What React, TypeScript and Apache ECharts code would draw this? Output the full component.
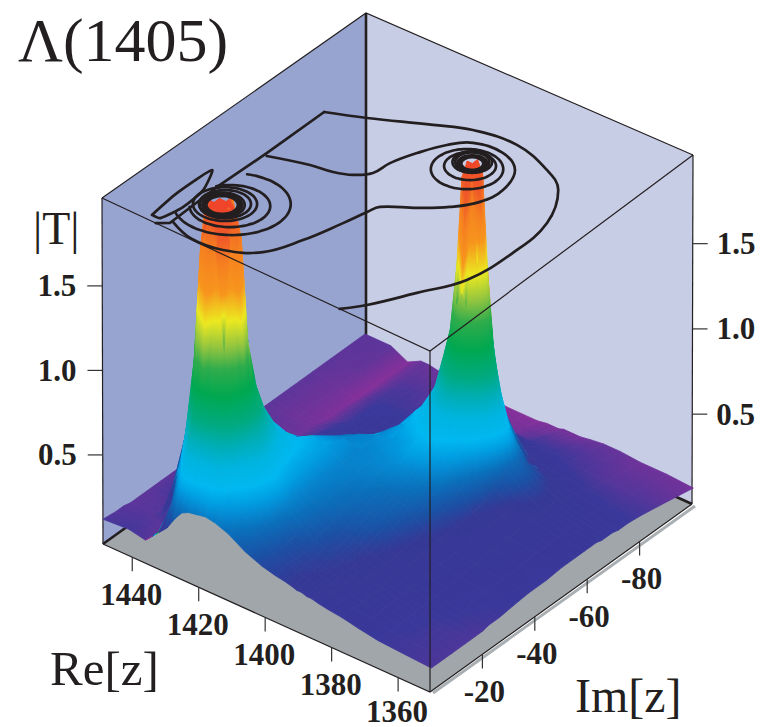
import React, { useEffect, useRef } from "react";
import * as echarts from "echarts";

// Axis ticks
const reTicks = [1360, 1380, 1400, 1420, 1440];
const imTicks = [-20, -40, -60, -80];
const tTicks = [0.5, 1.0, 1.5];

// |T| on a grid that is denser around the two poles
const reValues = [1350, 1358, 1366, 1372, 1377, 1381, 1384, 1386, 1387.5, 1389, 1390.5, 1392, 1394, 1397, 1401, 1406, 1411, 1415, 1418, 1420.5, 1423, 1425, 1427, 1429.5, 1432, 1436, 1441, 1448.8];
const imValues = [0, -5, -8, -10.5, -13, -15, -17, -19.5, -22, -26, -31, -37, -44, -50, -55, -58.5, -61, -63, -65, -67, -69, -71.5, -75, -80, -87, -100];
const tRows = [
  [.12, .12, .12, .12, .12, .12, .12, .12, .13, .13, .14, .15, .15, .16, .16, .16, .16, .16, .15, .15, .15, .14, .14, .13, .11, .07],
  [.13, .13, .13, .13, .13, .13, .14, .14, .14, .15, .15, .16, .16, .17, .17, .17, .17, .17, .17, .17, .16, .16, .15, .13, .11, .08],
  [.14, .14, .15, .15, .15, .15, .15, .16, .16, .16, .17, .18, .19, .19, .20, .20, .21, .21, .21, .21, .20, .19, .17, .14, .11, .08],
  [.16, .16, .16, .17, .17, .17, .17, .18, .18, .18, .19, .19, .20, .20, .21, .22, .24, .26, .27, .27, .26, .24, .20, .15, .12, .09],
  [.18, .18, .18, .19, .19, .19, .19, .20, .20, .20, .21, .22, .23, .24, .26, .29, .32, .35, .36, .36, .33, .29, .22, .16, .13, .09],
  [.19, .19, .20, .20, .20, .21, .21, .21, .21, .22, .23, .25, .28, .33, .42, .50, .60, .68, .72, .62, .50, .38, .24, .18, .14, .08],
  [.20, .20, .21, .21, .21, .22, .22, .22, .23, .24, .26, .29, .35, .43, .50, .66, .88, 1.02, 1.08, .92, .66, .50, .36, .18, .14, .07],
  [.21, .21, .21, .22, .22, .22, .23, .23, .24, .26, .28, .32, .38, .46, .55, .78, 1.08, 1.42, 1.70, 1.40, .96, .66, .42, .22, .14, .07],
  [.21, .22, .22, .22, .23, .23, .24, .24, .25, .27, .30, .34, .40, .48, .58, .86, 1.22, 1.95, 2.6, 1.95, 1.20, .76, .48, .26, .14, .07],
  [.22, .22, .23, .23, .24, .24, .25, .25, .26, .29, .32, .35, .41, .50, .62, .90, 1.30, 2.4, 2.6, 2.4, 1.28, .82, .52, .28, .14, .07],
  [.22, .23, .23, .24, .24, .25, .25, .26, .27, .30, .33, .36, .42, .51, .63, .89, 1.22, 1.95, 2.6, 1.95, 1.20, .80, .52, .28, .13, .06],
  [.23, .23, .24, .24, .25, .26, .26, .27, .28, .31, .34, .37, .43, .52, .62, .83, 1.08, 1.42, 1.70, 1.42, 1.05, .76, .50, .26, .12, .06],
  [.24, .24, .25, .25, .26, .27, .27, .28, .29, .32, .35, .38, .44, .52, .60, .74, .92, 1.02, 1.08, 1.02, .88, .66, .44, .22, .11, .06],
  [.25, .26, .26, .27, .28, .29, .30, .31, .32, .35, .37, .40, .44, .48, .56, .62, .68, .71, .72, .69, .62, .50, .34, .18, .09, .05],
  [.27, .28, .29, .30, .31, .34, .35, .36, .37, .38, .39, .41, .43, .46, .50, .53, .53, .54, .53, .50, .44, .35, .24, .14, .08, .05],
  [.31, .35, .38, .40, .41, .42, .42, .42, .42, .42, .42, .42, .42, .44, .42, .40, .38, .36, .34, .31, .27, .22, .16, .10, .07, .05],
  [.37, .44, .49, .53, .56, .58, .57, .54, .52, .50, .49, .48, .44, .40, .34, .28, .23, .20, .18, .16, .14, .13, .11, .09, .08, .06],
  [.40, .52, .62, .70, .77, .80, .79, .74, .68, .61, .56, .50, .42, .36, .30, .25, .21, .19, .17, .16, .15, .14, .13, .11, .10, .07],
  [.41, .64, .82, .96, 1.04, 1.06, 1.04, .96, .82, .68, .56, .46, .38, .30, .25, .21, .19, .18, .17, .16, .16, .15, .14, .13, .11, .08],
  [.40, .66, .94, 1.20, 1.85, 2.1, 1.85, 1.20, .94, .72, .54, .44, .34, .27, .22, .19, .18, .17, .17, .16, .16, .15, .15, .13, .11, .08],
  [.39, .72, 1.02, 1.80, 2.6, 2.6, 2.6, 1.80, 1.02, .76, .54, .44, .33, .25, .21, .18, .17, .17, .16, .16, .15, .15, .15, .13, .12, .08],
  [.37, .75, 1.05, 2.1, 2.6, 2.6, 2.6, 2.1, 1.05, .76, .52, .42, .31, .23, .20, .18, .17, .16, .16, .15, .15, .15, .15, .13, .12, .08],
  [.32, .72, 1.00, 1.80, 2.6, 2.6, 2.6, 1.80, 1.00, .72, .49, .38, .28, .21, .18, .16, .16, .15, .15, .14, .14, .14, .14, .13, .12, .08],
  [.24, .50, .72, 1.12, 1.75, 2.1, 1.75, 1.12, .86, .64, .42, .31, .22, .17, .15, .14, .14, .13, .13, .12, .12, .12, .12, .12, .11, .09],
  [.19, .31, .48, .68, .88, .98, .98, .86, .72, .54, .32, .22, .15, .13, .12, .12, .11, .11, .11, .10, .10, .10, .10, .10, .09, .09],
  [.11, .10, .10, .16, .38, .54, .62, .58, .48, .34, .19, .13, .10, .09, .08, .08, .08, .08, .07, .07, .06, .06, .06, .05, .05, .05],
  [.13, .12, .11, .11, .11, .11, .12, .13, .14, .13, .11, .10, .10, .09, .09, .09, .09, .08, .08, .08, .08, .08, .08, .08, .09, .10],
  [.12, .11, .11, .10, .10, .10, .10, .10, .10, .10, .10, .10, .10, .10, .10, .10, .10, .10, .10, .10, .10, .10, .10, .10, .10, .10],
];

// Contours on the top plane, as [Re, Im]
const contourOuterArc = [[1377.5, 0], [1373.4, -5.2], [1367.2, -16.3], [1361.2, -27.7], [1359.4, -42.9], [1360.5, -57.3], [1366.6, -69.3], [1373.6, -73.9], [1385.4, -77.4], [1397.2, -75.6], [1405.8, -71.4], [1419.7, -63.9], [1429.1, -59.5]];
const contourOuterEdge = [[1429.1, -59.5], [1429.5, -38.3], [1430.3, -20.3], [1430.1, -2.1], [1432.7, 0]];
const contourInner = [[1429.8, -2.9], [1422.2, -0.3], [1413.6, -1.4], [1405.7, -6.6], [1401.3, -16.2], [1398.1, -27.4], [1396.4, -34.4], [1395.3, -37.9], [1388.2, -43], [1382.4, -48.1], [1378.1, -54.1], [1376.8, -61.2], [1379.5, -69.2], [1386, -72.8], [1394, -71.6], [1398.3, -67.1], [1401.8, -60.2], [1404.3, -53.1], [1405, -47.5], [1408.2, -44], [1412.6, -42], [1418.6, -40.8], [1428.8, -37.3]];
const contourLens = [[1435.4, -2], [1436.2, -12.5], [1435.4, -24.9], [1432.1, -17.3], [1431.6, -9], [1433.1, -2.2], [1435.4, -2]];
// Rings round each pole: Re, Im, two half-widths, first and last angle
const ringsLeft = [
  [1423.3, -17.1, 8.6, 9.7, -75, 165],
  [1423.2, -16.2, 5.9, 6.6, -110, 180],
  [1424.6, -16.1, 4.7, 5.3, 0, 360],
  [1424.6, -16.1, 3.8, 4.4, 0, 360],
  [1424.9, -15.4, 3.3, 3.9, 0, 360],
  [1424.9, -15.4, 2.9, 3.4, 0, 360],
  [1424.9, -15.4, 2.6, 3.1, 0, 360],
  [1424.9, -15.4, 2.3, 2.8, 0, 360],
];
const ringsRight = [
  [1388.6, -62.5, 5.3, 6.3, 0, 360],
  [1388.8, -63.9, 3.8, 4.4, 0, 360],
  [1389.4, -65.5, 2.9, 3.4, 0, 360],
  [1389.4, -65.5, 2.5, 3.0, 0, 360],
  [1389, -65, 2.2, 2.6, 0, 360],
  [1389, -65, 1.9, 2.3, 0, 360],
  [1389, -65, 1.6, 2.0, 0, 360],
];

// Colour ramp
const rampValues = [0.05, 0.09, 0.14, 0.23, 0.29, 0.38, 0.48, 0.54, 0.64, 0.74, 0.85, 1.0, 1.15, 1.27, 1.42, 1.6, 1.85, 2.05, 2.4];
const rampColors = ["#85309a", "#66349a", "#3a389a", "#363896", "#1b50a4", "#0a70bc", "#00a0e4", "#00b8f0", "#00b4e0", "#00aeb8", "#00aa80", "#00a850", "#30ac4c", "#90c440", "#ece820", "#f7941d", "#f57f20", "#f05a28", "#f0452a"];

const T0 = -0.027;
const T1 = 2.02;
function project(re: number, im: number, t: number): number[] {
  const a = (re - 1350.4) / 98.4;
  const b = -im / 100;
  const h = (Math.min(t, T1) - T0) / (T1 - T0);
  const fx = 430 - 327 * a + 262 * b;
  const fy = 692 - 148 * a - 188 * b;
  const tx = 430 - 328 * a + 263 * b;
  const ty = 351 - 153 * a - 196 * b;
  return [fx + (tx - fx) * h, fy + (ty - fy) * h];
}
function hexToRgb(c: string) {
  return [1, 3, 5].map((i) => parseInt(c.slice(i, i + 2), 16));
}
function colorOf(t: number): string {
  if (t <= rampValues[0]) return rampColors[0];
  for (let k = 1; k < rampValues.length; k++) {
    if (t <= rampValues[k]) {
      const f = (t - rampValues[k - 1]) / (rampValues[k] - rampValues[k - 1]);
      const p = hexToRgb(rampColors[k - 1]);
      const q = hexToRgb(rampColors[k]);
      return `rgb(${p.map((v, n) => Math.round(v + (q[n] - v) * f)).join(",")})`;
    }
  }
  return rampColors[rampColors.length - 1];
}
// Shade one cell of the surface along its own colour slope
function cellFill(pts: number[][], vals: number[]): any {
  const vs = vals.map((v) => Math.min(v, 2.4));
  const mean = (vs[0] + vs[1] + vs[2] + vs[3]) / 4;
  const d1 = [pts[2][0] - pts[0][0], pts[2][1] - pts[0][1]];
  const d2 = [pts[3][0] - pts[1][0], pts[3][1] - pts[1][1]];
  const dv1 = vs[2] - vs[0];
  const dv2 = vs[3] - vs[1];
  const det = d1[0] * d2[1] - d1[1] * d2[0];
  if (Math.abs(det) < 1 || (dv1 === 0 && dv2 === 0)) return colorOf(mean);
  const gx = (dv1 * d2[1] - dv2 * d1[1]) / det;
  const gy = (d1[0] * dv2 - d2[0] * dv1) / det;
  const g2 = gx * gx + gy * gy;
  if (g2 < 1e-9) return colorOf(mean);
  const cx = (pts[0][0] + pts[1][0] + pts[2][0] + pts[3][0]) / 4;
  const cy = (pts[0][1] + pts[1][1] + pts[2][1] + pts[3][1]) / 4;
  const offs = pts.map((p) => (p[0] - cx) * gx + (p[1] - cy) * gy);
  const lo = Math.min(...offs);
  const hi = Math.max(...offs);
  const vLo = mean + lo;
  const vHi = mean + hi;
  if (hi - lo < 0.004) return colorOf(mean);
  const stops = [{ offset: 0, color: colorOf(vLo) }];
  rampValues.forEach((r, k) => {
    if (r > vLo && r < vHi) stops.push({ offset: (r - vLo) / (vHi - vLo), color: rampColors[k] });
  });
  stops.push({ offset: 1, color: colorOf(vHi) });
  return new echarts.graphic.LinearGradient(cx + (gx / g2) * lo, cy + (gy / g2) * lo, cx + (gx / g2) * hi, cy + (gy / g2) * hi, stops, true);
}
function ringPoints(r: number[]): number[][] {
  const pts: number[][] = [];
  for (let d = r[4]; d <= r[5]; d += 6) {
    const th = (d * Math.PI) / 180;
    const c = Math.cos(th) * r[2];
    const s = Math.sin(th) * r[3];
    pts.push([r[0] - 1.26 * c - 0.79 * s, r[1] - c + s]);
  }
  return pts;
}

const INK = "#231f20";
const TEXT = "#231f20";
const SERIF = '"Liberation Serif", serif';

function buildOption() {
  const cells: number[][] = [];
  for (let i = reValues.length - 2; i >= 0; i--) {
    for (let j = imValues.length - 2; j >= 0; j--) cells.push([i, j]);
  }
  const curves = [contourOuterArc, contourOuterEdge, contourInner, contourLens, ...ringsLeft.map(ringPoints), ...ringsRight.map(ringPoints)];
  const smoothFlags = curves.map((c) => (c === contourOuterEdge ? 0 : c === contourLens ? 0.2 : 0.4));
  const line = (pts: number[][], width: number, z: number, color = INK) => ({
    type: "polyline",
    z,
    silent: true,
    shape: { points: pts },
    style: { stroke: color, lineWidth: width, fill: "none" },
  });
  const L = [103, 544], F = [430, 692], R = [692, 504], B = [365, 356];
  const Lt = [102, 198], Ft = [430, 351], Rt = [693, 155], Bt = [366, 13];
  const elements: any[] = [
    { type: "polygon", z: 0, silent: true, shape: { points: [Lt, Bt, [366, 356], L] }, style: { fill: "#98a4d0" } },
    { type: "polygon", z: 0, silent: true, shape: { points: [Bt, Rt, R, [366, 356]] }, style: { fill: "#c8cde6" } },
    line([Bt, [366, 356]], 2.6, 0),
    line([Lt, L], 1.2, 0),
    line([Rt, R], 1.2, 0),
    line([Lt, Bt, Rt], 1.1, 0),
    line([[F[0] + 3, F[1] + 1], [R[0] + 3, R[1] + 2]], 3, 0, "#a9afb2"),
    { type: "polygon", z: 1, silent: true, shape: { points: [L, F, R, B] }, style: { fill: "#a0a6aa" } },
    line([L, B, R], 2.6, 1),
    line([L, F, R], 1.2, 1),
    line([Lt, Ft, Rt], 1.2, 6),
    line([Ft, F], 1.2, 6),
  ];
  const text = (str: string, x: number, y: number, size: number, bold: boolean, align = "center") => ({
    type: "text",
    z: 6,
    silent: true,
    style: { text: str, x, y, font: `${bold ? "bold " : ""}${size}px ${SERIF}`, fill: TEXT, textAlign: align, textVerticalAlign: "middle" },
  });
  reTicks.forEach((v) => {
    const p = project(v, 0, T0);
    elements.push(line([p, [p[0], p[1] + 14]], 1.2, 1, "#333"));
    elements.push(text(String(v), p[0] - 1, Math.min(p[1] + 37, 711), 31, true));
  });
  imTicks.forEach((v) => {
    const p = project(1350.4, v, T0);
    elements.push(line([p, [p[0], p[1] + 14]], 1.2, 1, "#333"));
    elements.push(text(String(v), p[0] + 2, p[1] + 37, 31, true));
  });
  tTicks.forEach((v) => {
    const pl = project(1448.8, 0, v);
    elements.push(line([pl, [pl[0] - 15, pl[1]]], 1.2, 1, "#333"));
    elements.push(text(v.toFixed(1), pl[0] - 26, pl[1], 31, true, "right"));
    const pr = project(1350.4, -100, v);
    elements.push(line([pr, [pr[0] + 15, pr[1]]], 1.2, 1, "#333"));
    elements.push(text(v.toFixed(1), pr[0] + 24, pr[1], 31, true, "left"));
  });
  elements.push(text("\u039B(1405)", 18, 40, 62, false, "left"));
  elements.push(text("|T|", 33, 228, 46, false, "left"));
  elements.push(text("Re[z]", 50, 668, 49, false, "left"));
  elements.push(text("Im[z]", 575, 695, 48, false, "left"));

  return {
    animation: false,
    grid: { left: 0, right: 0, top: 0, bottom: 0 },
    xAxis: { type: "value", min: 0, max: 771, show: false },
    yAxis: { type: "value", min: 0, max: 727, inverse: true, show: false },
    graphic: { elements },
    series: [
      {
        type: "custom",
        coordinateSystem: "cartesian2d",
        z: 2,
        silent: true,
        clip: false,
        data: cells,
        renderItem: (_p: any, api: any) => {
          const i = api.value(0);
          const j = api.value(1);
          const corners = [[i, j], [i + 1, j], [i + 1, j + 1], [i, j + 1]];
          const vals = corners.map((c) => tRows[c[0]][c[1]]);
          const pts = corners.map((c, k) => api.coord(project(reValues[c[0]], imValues[c[1]], vals[k])));
          const fill = cellFill(pts, vals);
          return { type: "polygon", shape: { points: pts }, style: { fill, stroke: fill, lineWidth: 0.8 } };
        },
      },
      {
        type: "custom",
        coordinateSystem: "cartesian2d",
        z: 3,
        silent: true,
        clip: false,
        data: curves.map((_c, n) => [n, 0]),
        renderItem: (_p: any, api: any) => {
          const n = api.value(0);
          const pts = curves[n].map((c) => api.coord(project(c[0], c[1], T1)));
          return { type: "polyline", shape: { points: pts, smooth: smoothFlags[n] }, style: { stroke: INK, lineWidth: 2.7, fill: "none", lineCap: "round", lineJoin: "round" } };
        },
      },
    ],
  };
}

export default function App() {
  const ref = useRef<HTMLDivElement>(null);
  useEffect(() => {
    document.body.style.margin = "0";
    const chart = echarts.init(ref.current as HTMLDivElement, undefined, { renderer: "svg" });
    chart.setOption(buildOption() as any);
    return () => chart.dispose();
  }, []);
  return <div ref={ref} style={{ width: 771, height: 727, background: "#fff" }} />;
}
